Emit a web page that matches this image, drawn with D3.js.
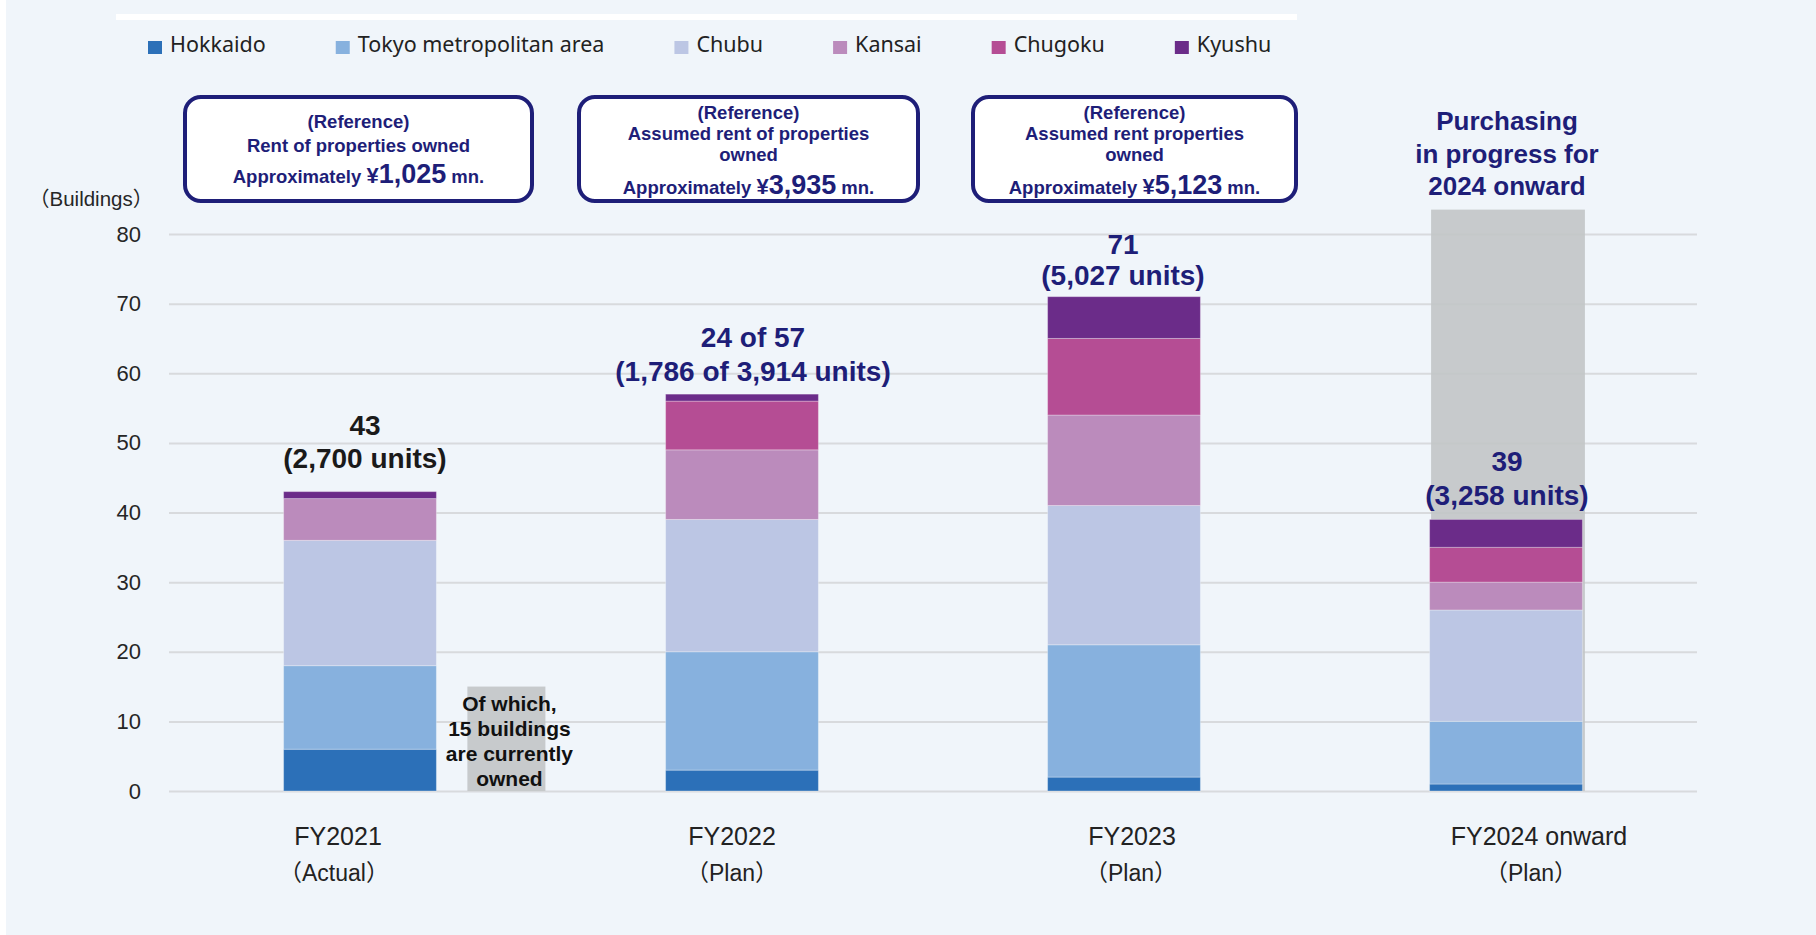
<!DOCTYPE html>
<html>
<head>
<meta charset="utf-8">
<script src="https://cdn.jsdelivr.net/npm/d3@7"></script>
<style>
  html, body { margin: 0; padding: 0; background: #ffffff; }
  svg { display: block; }
</style>
</head>
<body>
<svg id="chart" width="1816" height="935"></svg>
<script>
// ---- data ----
const categories = ["FY2021", "FY2022", "FY2023", "FY2024 onward"];
const categoryNotes = ["（Actual）", "（Plan）", "（Plan）", "（Plan）"];
const regions = ["Hokkaido", "Tokyo metropolitan area", "Chubu", "Kansai", "Chugoku", "Kyushu"];
const hokkaido = [6, 3, 2, 1];
const tokyo    = [12, 17, 19, 9];
const chubu    = [18, 19, 20, 16];
const kansai   = [6, 10, 13, 4];
const chugoku  = [0, 7, 11, 5];
const kyushu   = [1, 1, 6, 4];
const totalLines = [
  ["43", "(2,700 units)"],
  ["24 of 57", "(1,786 of 3,914 units)"],
  ["71", "(5,027 units)"],
  ["39", "(3,258 units)"]
];
const yTicks = [0, 10, 20, 30, 40, 50, 60, 70, 80];
const ownedNow = 15;                 // FY2021 buildings already owned
const ownedNote = ["Of which,", "15 buildings", "are currently", "owned"];
const purchasingTop = 83.5;          // height of the FY2024+ pipeline column
const purchasingNote = ["Purchasing", "in progress for", "2024 onward"];
const rentHeadings = [
  ["(Reference)", "Rent of properties owned"],
  ["(Reference)", "Assumed rent of properties", "owned"],
  ["(Reference)", "Assumed rent properties", "owned"]
];
const rentAmounts = ["1,025", "3,935", "5,123"];

// ---- styling ----
const W = 1816, H = 935;
const bg = "#f0f5fa";
const navy = "#1e1e78";
const regionColors = ["#2c70b8", "#87b1de", "#bcc6e4", "#bb8bbc", "#b54d94", "#6b2c89"];
const gridColor = "#d8dadd";
const sansFont = "'Liberation Sans', Arial, 'Noto Sans CJK JP', sans-serif";
const legendFont = "'Noto Sans', 'DejaVu Sans', sans-serif";

// per-category placement tweaks for annotations
const labelLift = [[57, 24], [47, 13.5], [43, 11.5], [48.5, 14.5]];
const labelShift = [5, 11, -1, 1];
const fyShift = [-22, -10, 8, 33];
const noteShift = [-26, -10, 7, 25];
const boxLayout = [{ dx: -1.5, w: 351 }, { dx: 6.5, w: 343 }, { dx: 10.5, w: 327 }];

const svg = d3.select("#chart");

svg.append("rect")
  .attr("x", 6).attr("y", 0).attr("width", W - 6).attr("height", H)
  .attr("fill", bg);

// thin white rule above the legend
svg.append("rect")
  .attr("x", 116).attr("y", 14).attr("width", 1181).attr("height", 6)
  .attr("fill", "#ffffff");

// ---- scales ----
const plotLeft = 169, plotRight = 1697;
const x = d3.scaleBand()
  .domain(categories)
  .range([plotLeft, plotRight])
  .paddingInner(0.6)
  .paddingOuter(0.3);
const y = d3.scaleLinear().domain([0, 80]).range([791, 234]);

// ---- gridlines ----
svg.append("g")
  .attr("transform", `translate(${plotLeft},0)`)
  .call(d3.axisLeft(y).tickValues(yTicks).tickSize(-(plotRight - plotLeft)).tickFormat(""))
  .call(g => g.select(".domain").remove())
  .call(g => g.selectAll(".tick line").attr("stroke", gridColor).attr("stroke-width", 2));

// ---- y labels ----
svg.append("g")
  .attr("transform", "translate(141,0)")
  .call(d3.axisLeft(y).tickValues(yTicks).tickSize(0).tickPadding(0))
  .call(g => g.select(".domain").remove())
  .call(g => g.selectAll(".tick text")
    .attr("font-family", sansFont).attr("font-size", 22).attr("fill", "#262626"));

svg.append("text")
  .attr("x", 29).attr("y", 206)
  .attr("font-family", sansFont).attr("font-size", 20.5).attr("fill", "#262626")
  .text("（Buildings）");

// ---- backdrop columns ----
const lastCat = categories[categories.length - 1];
svg.append("rect")
  .attr("x", x(lastCat) + 1.5).attr("width", x.bandwidth() + 1)
  .attr("y", y(purchasingTop)).attr("height", y(0) - y(purchasingTop))
  .attr("fill", "#c2c5c7").attr("opacity", 0.9);

const firstCat = categories[0];
const ownedX = x(firstCat) + x.bandwidth() + 31;
svg.append("rect")
  .attr("x", ownedX).attr("width", 78)
  .attr("y", y(ownedNow)).attr("height", y(0) - y(ownedNow))
  .attr("fill", "#c2c5c7").attr("opacity", 0.9);

// ---- stacked bars ----
const seriesValues = [hokkaido, tokyo, chubu, kansai, chugoku, kyushu];
const rows = categories.map((c, i) => {
  const r = { category: c };
  regions.forEach((reg, k) => { r[reg] = seriesValues[k][i]; });
  return r;
});
const stacked = d3.stack().keys(regions)(rows);

svg.append("g").selectAll("g")
  .data(stacked)
  .join("g")
  .attr("fill", (d, k) => regionColors[k])
  .selectAll("rect")
  .data(d => d.filter(s => s[1] > s[0]))
  .join("rect")
  .attr("x", d => x(d.data.category))
  .attr("width", x.bandwidth())
  .attr("y", d => y(d[1]))
  .attr("height", d => y(d[0]) - y(d[1]))
  .attr("stroke", "rgba(255,255,255,0.3)")
  .attr("stroke-width", 1);

// ---- totals above bars ----
const totals = categories.map((c, i) => d3.sum(seriesValues, s => s[i]));
categories.forEach((c, i) => {
  const cx = x(c) + x.bandwidth() / 2 + labelShift[i];
  const t = svg.append("text")
    .attr("font-family", sansFont).attr("font-weight", "bold").attr("font-size", 28)
    .attr("text-anchor", "middle")
    .attr("fill", i === 0 ? "#1a1a1a" : navy);
  totalLines[i].forEach((line, j) => {
    t.append("tspan").attr("x", cx).attr("y", y(totals[i]) - labelLift[i][j]).text(line);
  });
});

// ---- note on owned buildings ----
const ownedText = svg.append("text")
  .attr("font-family", sansFont).attr("font-weight", "bold").attr("font-size", 21)
  .attr("text-anchor", "middle").attr("fill", "#111111");
ownedNote.forEach((line, j) => {
  ownedText.append("tspan").attr("x", ownedX + 42).attr("y", 711 + j * 25).text(line);
});

// ---- pipeline heading ----
const purchCx = x(lastCat) + x.bandwidth() / 2 + 1;
const purchText = svg.append("text")
  .attr("font-family", sansFont).attr("font-weight", "bold").attr("font-size", 26)
  .attr("text-anchor", "middle").attr("fill", navy);
purchasingNote.forEach((line, j) => {
  purchText.append("tspan").attr("x", purchCx).attr("y", 130 + j * 32.5).text(line);
});

// ---- rent reference boxes ----
rentHeadings.forEach((lines, i) => {
  const c = categories[i];
  const cx = x(c) + x.bandwidth() / 2 + boxLayout[i].dx;
  const w = boxLayout[i].w;
  svg.append("rect")
    .attr("x", cx - w / 2 + 2).attr("y", 97)
    .attr("width", w - 4).attr("height", 104)
    .attr("rx", 16).attr("ry", 16)
    .attr("fill", "#ffffff").attr("stroke", navy).attr("stroke-width", 4);

  const n = lines.length;
  const first = n === 3 ? 118.5 : 128;
  const step = n === 3 ? 21 : 23.5;
  const t = svg.append("text")
    .attr("font-family", sansFont).attr("font-weight", "bold").attr("font-size", 18.5)
    .attr("text-anchor", "middle").attr("fill", navy);
  lines.forEach((line, j) => {
    t.append("tspan").attr("x", cx).attr("y", first + j * step).text(line);
  });
  const amt = svg.append("text")
    .attr("x", cx).attr("y", first + (n - 1) * step + (n === 3 ? 33 : 31))
    .attr("font-family", sansFont).attr("font-weight", "bold").attr("font-size", 18.5)
    .attr("text-anchor", "middle").attr("fill", navy);
  amt.append("tspan").text("Approximately ");
  amt.append("tspan").attr("font-size", 22).text("¥");
  amt.append("tspan").attr("font-size", 27).text(rentAmounts[i]);
  amt.append("tspan").text(" mn.");
});

// ---- category labels ----
categories.forEach((c, i) => {
  const cx = x(c) + x.bandwidth() / 2;
  svg.append("text")
    .attr("x", cx + fyShift[i]).attr("y", 845)
    .attr("font-family", sansFont).attr("font-size", 25)
    .attr("text-anchor", "middle").attr("fill", "#222222")
    .text(c);
  svg.append("text")
    .attr("x", cx + noteShift[i]).attr("y", 881)
    .attr("font-family", sansFont).attr("font-size", 23)
    .attr("text-anchor", "middle").attr("fill", "#222222")
    .text(categoryNotes[i]);
});

// ---- legend ----
const legend = svg.append("g");
let lx = 148;
regions.forEach((reg, k) => {
  legend.append("rect")
    .attr("x", lx).attr("y", 41).attr("width", 14).attr("height", 13)
    .attr("fill", regionColors[k]);
  const t = legend.append("text")
    .attr("x", lx + 22).attr("y", 52)
    .attr("font-family", legendFont).attr("font-size", 21.5).attr("fill", "#222222")
    .text(reg);
  lx += 22 + t.node().getComputedTextLength() + 70;
});
</script>
</body>
</html>
